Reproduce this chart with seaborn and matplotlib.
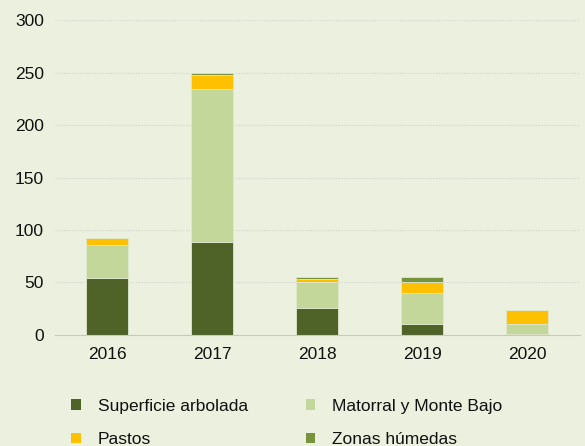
import pandas as pd
import numpy as np
import matplotlib.pyplot as plt
import seaborn as sns
from matplotlib.patches import Patch

sns.set_style("white")
plt.rcParams['font.family'] = ['Liberation Sans', 'DejaVu Sans']

years = ['2016', '2017', '2018', '2019', '2020']
arbolada = [54, 89, 26, 10.5, 1]
matorral = [32, 145, 24, 29, 9.6]
pastos = [6, 14, 3.5, 11, 13.4]
humedas = [0.5, 2, 1.5, 4.7, 0.2]

names = ['Superficie arbolada', 'Matorral y Monte Bajo', 'Pastos', 'Zonas húmedas']
colors = ['#4F6228', '#C4D79B', '#FFC000', '#77933C']
bg = '#EBF1DE'

fig = plt.figure(figsize=(5.85, 4.46), dpi=100, facecolor=bg)
ax = fig.add_axes([0.094, 0.249, 0.897, 0.706])
ax.set_facecolor(bg)

bottom = np.zeros(len(years))
for vals, col in zip([arbolada, matorral, pastos, humedas], colors):
    df = pd.DataFrame({'year': years, 'val': vals})
    sns.barplot(data=df, x='year', y='val', color=col, bottom=bottom, width=0.4,
                saturation=1, edgecolor='#dfe8cc', linewidth=0.6, ax=ax)
    bottom = bottom + np.array(vals)

ax.set_ylim(0, 300)
ax.set_yticks(range(0, 301, 50))
ax.set_xlim(-0.5, 4.5)
ax.set_xlabel('')
ax.set_ylabel('')
ax.grid(axis='y', color='#d0d0d0', linestyle=(0, (1, 1.5)), linewidth=0.8)
ax.set_axisbelow(True)
for s in ['top', 'right', 'left']:
    ax.spines[s].set_visible(False)
ax.spines['bottom'].set_color('#c8c8c8')
ax.tick_params(axis='both', labelsize=12.5, length=0, colors='#111111')
ax.tick_params(axis='x', pad=9)
ax.tick_params(axis='y', pad=8)
ax.set_xticks(np.arange(-0.5, 5, 1), minor=True)
ax.tick_params(axis='x', which='minor', length=5, color='#c8c8c8')

# legend fills column-wise: reorder so rows read arbolada/matorral, pastos/humedas
order = [0, 2, 1, 3]
handles = [Patch(facecolor=colors[i], edgecolor='none') for i in order]
labels = [names[i] for i in order]
fig.legend(handles, labels, loc='upper left', bbox_to_anchor=(0.095, 0.141), ncol=2,
           frameon=False, fontsize=12.5, handlelength=0.55, handleheight=0.55,
           handletextpad=1.0, columnspacing=3.3, labelspacing=1.05, labelcolor='#111111')

fig.savefig('out.png', dpi=100, facecolor=bg)
